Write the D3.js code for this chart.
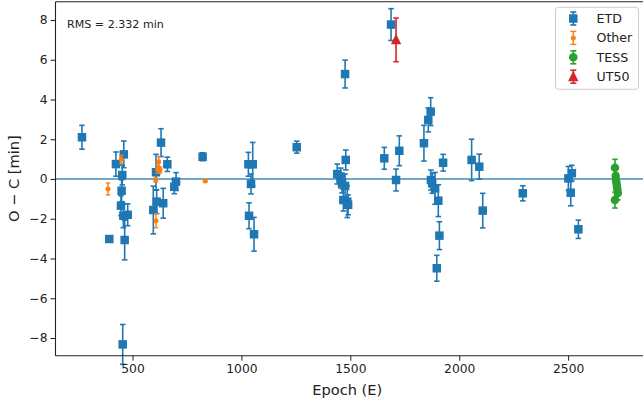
<!DOCTYPE html>
<html><head><meta charset="utf-8">
<script src="https://cdn.jsdelivr.net/npm/d3@7"></script>
<style>body{margin:0;background:#fff}svg{display:block;font-family:"DejaVu Sans",sans-serif}</style>
</head><body><svg id="c" width="643" height="406"></svg>
<script>
const etdEpoch=[268,393.5,424,447,453,455,450,458,460,464,478,595.5,608,611,631,641,660,692,700,822,1032,1035,1044,1052,1058,1254,1440,1456,1462,1468,1476,1476,1479,1486,1490,1656,1687,1710,1725,1838,1858,1869,1870,1876,1889,1897,1904,1909,1926,2057,2092,2108,2292,2501,2512,2517,2547];
const etdOC=[2.1,-3.02,0.75,-1.34,0.2,-8.32,-0.59,-1.85,1.24,-3.07,-1.8,-1.56,0.34,-1.14,1.83,-1.22,0.74,-0.39,-0.13,1.12,0.74,-1.85,-0.25,0.74,-2.78,1.6,0.25,0.05,-0.2,-1.06,5.28,-0.35,0.96,-1.14,-1.3,1.04,7.77,-0.05,1.42,1.8,2.97,3.39,-0.05,-0.22,-0.47,-4.49,-1.09,-2.85,0.82,0.96,0.62,-1.59,-0.72,0.03,-0.69,0.29,-2.53];
const etdErr=[0.6,0.12,0.61,0.5,0.5,1.0,0.55,0.6,0.67,1.0,0.55,1.2,0.9,0.6,0.7,0.75,0.36,0.35,0.45,0.2,0.6,0.65,0.5,1.1,0.85,0.3,0.5,0.5,0.5,0.55,0.7,0.6,0.5,0.8,0.5,0.55,0.8,0.55,0.75,0.9,0.6,0.7,0.5,0.5,0.8,0.65,0.8,0.7,0.42,1.04,0.63,0.87,0.38,0.6,0.66,0.4,0.46];
const otherEpoch=[387.5,448.6,606.5,608,615.7,620.3,626.3,834];
const otherOC=[-0.5,0.99,-0.05,-2.1,0.49,0.87,0.45,-0.1];
const otherErr=[0.3,0.2,0.1,0.35,0.2,0.25,0.15,0.05];
const tessEpoch=[2715,2718,2720,2722,2724,2726,2728,2715];
const tessOC=[0.57,0.15,-0.05,-0.2,-0.35,-0.5,-0.7,-1.06];
const tessErr=[0.42,0.35,0.35,0.35,0.35,0.35,0.35,0.4];
const ut50Epoch=[1710];
const ut50OC=[7.0];
const ut50Err=[1.1];
const xTicks=[500,1000,1500,2000,2500];
const yTicks=[-8,-6,-4,-2,0,2,4,6,8];
const legendLabels=["ETD","Other","TESS","UT50"];
const colors=["#1f77b4","#ff7f0e","#2ca02c","#d62728"];

const svg=d3.select("#c");
const L=55.5,T=1.7,B=355.7;
const x=d3.scaleLinear().domain([146.5,2863]).range([L,647.2]);
const y=d3.scaleLinear().domain([-8.89,8.92]).range([B,T]);

// zero line
svg.append("line").attr("x1",L).attr("x2",643).attr("y1",y(0)).attr("y2",y(0))
  .attr("stroke","#1f77b4").attr("stroke-width",1.5).attr("opacity",0.85);

function series(ep,oc,er,color,shape,size,lw,cap){
  const g=svg.append("g");
  ep.forEach((e,i)=>{
    const cx=x(e),cy=y(oc[i]),y1=y(oc[i]+er[i]),y2=y(oc[i]-er[i]);
    g.append("line").attr("x1",cx).attr("x2",cx).attr("y1",y1).attr("y2",y2).attr("stroke",color).attr("stroke-width",lw);
    [y1,y2].forEach(yy=>g.append("line").attr("x1",cx-cap/2).attr("x2",cx+cap/2).attr("y1",yy).attr("y2",yy).attr("stroke",color).attr("stroke-width",lw));
    drawMarker(g,cx,cy,color,shape,size);
  });
}
function drawMarker(g,cx,cy,color,shape,size){
  if(shape==="square") g.append("rect").attr("x",cx-size/2).attr("y",cy-size/2).attr("width",size).attr("height",size).attr("fill",color);
  else if(shape==="circle") g.append("circle").attr("cx",cx).attr("cy",cy).attr("r",size/2).attr("fill",color);
  else { const h=size; g.append("path").attr("d",`M${cx},${cy-h*0.6}L${cx+h*0.52},${cy+h*0.45}L${cx-h*0.52},${cy+h*0.45}Z`).attr("fill",color); }
}
series(etdEpoch,etdOC,etdErr,colors[0],"square",8.5,1.6,5.5);
series(otherEpoch,otherOC,otherErr,colors[1],"circle",5,1.4,4.5);
series(tessEpoch,tessOC,tessErr,colors[2],"circle",8.5,1.6,5.5);
series(ut50Epoch,ut50OC,ut50Err,colors[3],"triangle",10,1.6,5.5);

// clip cover outside bottom
// axes
const xa=svg.append("g").attr("transform",`translate(0,${B})`).call(d3.axisBottom(x).tickValues(xTicks).tickSize(5).tickPadding(4).tickFormat(d3.format("d")));
const ya=svg.append("g").attr("transform",`translate(${L},0)`).call(d3.axisLeft(y).tickValues(yTicks).tickSize(5).tickPadding(3).tickFormat(d=>d<0?"\u2212"+Math.abs(d):d));
[xa,ya].forEach(a=>{a.selectAll("path").remove();a.selectAll("line").attr("stroke","#000").attr("stroke-width",0.9);a.selectAll("text").attr("fill","#222").style("font-size","12.3px").style("font-family","DejaVu Sans");});
svg.append("line").attr("x1",L).attr("x2",643).attr("y1",B).attr("y2",B).attr("stroke","#222").attr("stroke-width",1.1);
svg.append("line").attr("x1",L).attr("x2",643).attr("y1",T).attr("y2",T).attr("stroke","#222").attr("stroke-width",1.1);
svg.append("line").attr("x1",L).attr("x2",L).attr("y1",T).attr("y2",B).attr("stroke","#222").attr("stroke-width",1.1);

svg.append("text").attr("x",(L+643)/2-2).attr("y",395).attr("text-anchor","middle").style("font-size","14.6px").attr("fill","#222").text("Epoch (E)");
svg.append("text").attr("transform",`translate(19,${(T+B)/2}) rotate(-90)`).attr("text-anchor","middle").style("font-size","14.6px").attr("fill","#222").text("O \u2212 C [min]");
svg.append("text").attr("x",67).attr("y",28).style("font-size","11.1px").attr("fill","#222").text("RMS = 2.332 min");

// legend
const lg=svg.append("g");
lg.append("rect").attr("x",555.5).attr("y",7.3).attr("width",83).attr("height",82).attr("rx",3).attr("fill","#fff").attr("fill-opacity",0.8).attr("stroke","#ccc");
const shapes=["square","circle","circle","triangle"],sizes=[8.5,5,8.5,10],lws=[1.6,1.4,1.6,1.6];
legendLabels.forEach((lab,i)=>{
  const cy=18.5+i*19.4,cx=573.3,c=colors[i];
  lg.append("line").attr("x1",cx).attr("x2",cx).attr("y1",cy-6.5).attr("y2",cy+6.5).attr("stroke",c).attr("stroke-width",lws[i]);
  [cy-6.5,cy+6.5].forEach(yy=>lg.append("line").attr("x1",cx-3).attr("x2",cx+3).attr("y1",yy).attr("y2",yy).attr("stroke",c).attr("stroke-width",lws[i]));
  drawMarker(lg,cx,cy,c,shapes[i],sizes[i]);
  lg.append("text").attr("x",596.5).attr("y",cy+4.5).style("font-size","12.6px").attr("fill","#222").text(lab);
});
</script></body></html>
